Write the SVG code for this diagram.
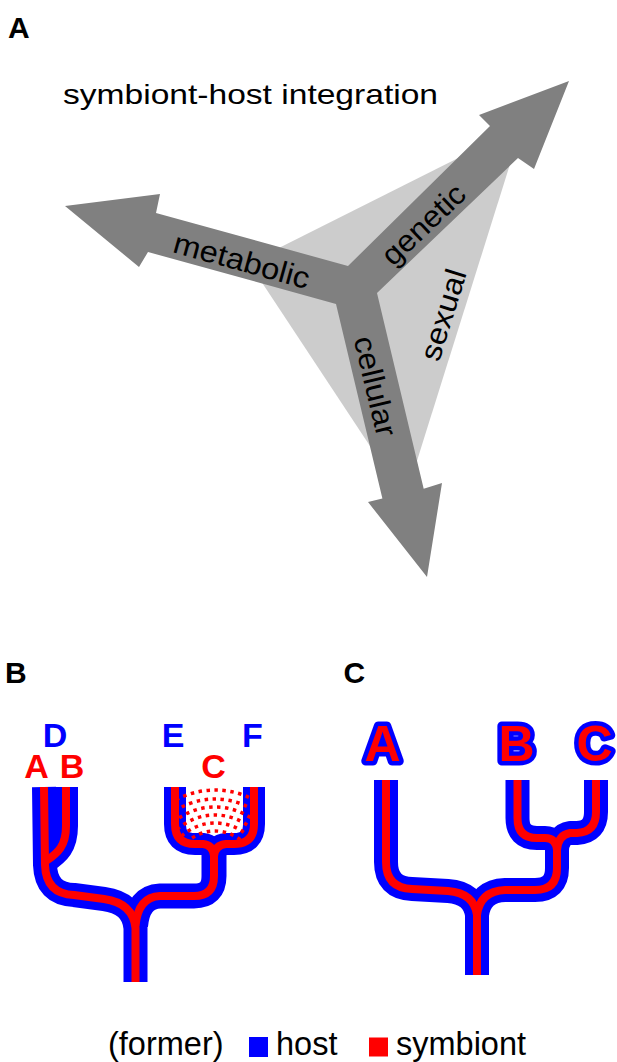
<svg xmlns="http://www.w3.org/2000/svg" width="617" height="1062" viewBox="0 0 617 1062">
<style>
  text { font-family: "Liberation Sans", Arial, sans-serif; }
  .panel { font-size: 30px; font-weight: bold; fill: #000; }
  .lbl { font-size: 30px; fill: #000; text-anchor: middle; }
  .host { fill: none; stroke: #0000ff; stroke-width: 24; stroke-linejoin: round; }
  .sym { fill: none; stroke: #ff0000; stroke-width: 8; stroke-linejoin: round; }
  .blab { font-size: 34px; font-weight: bold; text-anchor: middle; }
  .clab { font-size: 50px; font-weight: bold; text-anchor: middle; fill: #ff0000; stroke: #0000ff; stroke-width: 9; stroke-linejoin: round; paint-order: stroke; }
  .dots { fill: none; stroke: #ff0000; stroke-width: 3.5; stroke-dasharray: 3.5 4.5; }
  .leg { font-size: 32.5px; fill: #000; }
</style>
<defs>
  <clipPath id="uclip"><path d="M179,787 H250 V826 Q250,840 236,840 H194 Q179,840 179,826 Z"/></clipPath>
</defs>

<!-- Panel A -->
<g id="panelA">
  <text class="panel" x="8" y="37.5">A</text>
  <text id="title" x="63" y="104" font-size="28" textLength="375" lengthAdjust="spacingAndGlyphs">symbiont-host integration</text>
  <polygon id="triangle" points="249,263 522,126 405,499" fill="#cccccc"/>
  <polygon id="arrows" fill="#808080" points="65,206 160,194 156,213 348,266 490,126 479,115 569,81 534,169 518,158 377,293 423.7,488.7 442,483 427,577 368,502 382.4,498.6 336,304 148,252 139,267"/>
  <g id="metabolic"><text class="lbl" transform="translate(242,260) rotate(15.4)" x="0" y="11" textLength="140" lengthAdjust="spacingAndGlyphs">metabolic</text></g>
  <g id="genetic"><text class="lbl" transform="translate(425,226) rotate(-43.4)" x="0" y="8" textLength="103" lengthAdjust="spacingAndGlyphs">genetic</text></g>
  <g id="cellular"><text class="lbl" transform="translate(376,386) rotate(76.6)" x="0" y="11" textLength="102" lengthAdjust="spacingAndGlyphs">cellular</text></g>
  <g id="sexual"><text class="lbl" transform="translate(442.5,314.5) rotate(-72.7)" x="0" y="11" textLength="94" lengthAdjust="spacingAndGlyphs">sexual</text></g>
</g>

<!-- Panel B -->
<g id="panelB">
  <text class="panel" x="5" y="683">B</text>
  <g id="labelsB">
    <text class="blab" x="55" y="747" fill="#0000ff">D</text>
    <text class="blab" x="36.5" y="778" fill="#ff0000">A</text>
    <text class="blab" x="72" y="778" fill="#ff0000">B</text>
    <text class="blab" x="173" y="747" fill="#0000ff">E</text>
    <text class="blab" x="252.5" y="747" fill="#0000ff">F</text>
    <text class="blab" x="213.5" y="778" fill="#ff0000">C</text>
  </g>
  <g id="connectorsB">
    <path class="host" d="M44,787 L45,865 Q46,894 74,895 L104,899 Q133,903 135.5,928 L135.5,982"/>
    <path class="host" d="M66,787 L66,826 C66,846 58,853 46,861"/>
    <path class="host" style="stroke-width:25" d="M214,852 L214,876 Q214,896 194,896 L160,896 Q138,897 135.5,926"/>
    <path class="host" style="stroke-width:22" d="M175,787 L175,824 Q175,844 195,844 L203,844 Q213,845 214,856"/>
    <path class="host" style="stroke-width:22" d="M254,787 L254,824 Q254,844 234,844 L226,844 Q215,845 214,856"/>
    <path class="sym" d="M44,787 L45,865 Q46,894 74,895 L104,899 Q133,903 135.5,928 L135.5,982"/>
    <path class="sym" d="M66,787 L66,826 C66,846 58,853 46,861"/>
    <path class="sym" d="M214,852 L214,876 Q214,896 194,896 L160,896 Q138,897 135.5,926"/>
    <path class="sym" d="M175,787 L175,824 Q175,844 195,844 L203,844 Q213,845 214,856"/>
    <path class="sym" d="M254,787 L254,824 Q254,844 234,844 L226,844 Q215,845 214,856"/>
    <g clip-path="url(#uclip)">
      <path class="dots" d="M133,872 A82,82 0 0 1 297,872"/>
      <path class="dots" d="M142,872 A73,73 0 0 1 288,872"/>
      <path class="dots" d="M150,872 A65,65 0 0 1 280,872"/>
      <path class="dots" d="M158,872 A57,57 0 0 1 272,872"/>
      <path class="dots" d="M166,872 A49,49 0 0 1 264,872"/>
      <path class="dots" d="M174,872 A41,41 0 0 1 256,872"/>
    </g>
  </g>
</g>

<!-- Panel C -->
<g id="panelC">
  <text class="panel" x="343.5" y="683">C</text>
  <g id="labelsC">
    <text class="clab" x="382.5" y="760.5">A</text>
    <text class="clab" x="516.5" y="760.5">B</text>
    <text class="clab" x="594.5" y="760.5">C</text>
  </g>
  <g id="connectorsC">
    <path class="host" d="M386,780 L386,862 Q386,888 412,889 L448,891 Q474,893 477,915 L477,975"/>
    <path class="host" d="M557,838 L557,868 Q557,890 535,890 L505,890 Q480,891 477,915"/>
    <path class="host" d="M517.5,780 L517.5,818 Q517.5,838 537,838 L545,838 Q556,838 557,850"/>
    <path class="host" d="M596,780 L596,812 Q596,832 577,833 L570,833 Q558,835 557,850"/>
    <path class="sym" d="M386,780 L386,862 Q386,888 412,889 L448,891 Q474,893 477,915 L477,975"/>
    <path class="sym" d="M557,838 L557,868 Q557,890 535,890 L505,890 Q480,891 477,915"/>
    <path class="sym" d="M517.5,780 L517.5,818 Q517.5,838 537,838 L545,838 Q556,838 557,850"/>
    <path class="sym" d="M596,780 L596,812 Q596,832 577,833 L570,833 Q558,835 557,850"/>
  </g>
</g>

<!-- Legend -->
<g id="legend">
  <text class="leg" x="108" y="1055">(former)</text>
  <rect x="249" y="1037" width="19" height="20" fill="#0000ff"/>
  <text class="leg" x="276" y="1055">host</text>
  <rect x="369" y="1037.5" width="19" height="19" fill="#ff0000"/>
  <text class="leg" x="396" y="1055">symbiont</text>
</g>
</svg>
